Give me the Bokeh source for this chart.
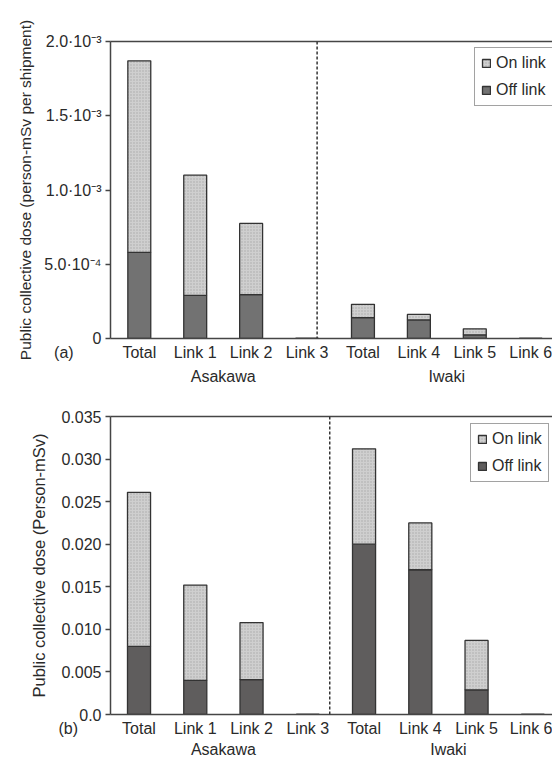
from bokeh.plotting import figure
from bokeh.models import (FixedTicker, LinearAxis, Range1d, Span, Legend,
                          LegendItem, ColumnDataSource, AllLabels)
from bokeh.layouts import column
from bokeh.embed import file_html
from bokeh.resources import INLINE

# ---------------- data ----------------
x_labels = ["Total", "Link 1", "Link 2", "Link 3", "Total", "Link 4", "Link 5", "Link 6"]
x_pos = [1, 2, 3, 4, 5, 6, 7, 8]
group_names = ["Asakawa", "Iwaki"]
group_pos = [2.5, 6.5]
series_names = ["On link", "Off link"]
panel_tags = ["(a)", "(b)"]

# (a) person-mSv per shipment
a_off = [5.8e-4, 2.9e-4, 2.95e-4, 0.0, 1.4e-4, 1.25e-4, 2.5e-5, 0.0]
a_on = [1.29e-3, 8.1e-4, 4.8e-4, 0.0, 9.0e-5, 3.7e-5, 4.0e-5, 0.0]
a_yticks = [0.0, 5.0e-4, 1.0e-3, 1.5e-3, 2.0e-3]
a_ytick_labels = ["0", "5.0·10⁻⁴", "1.0·10⁻³", "1.5·10⁻³", "2.0·10⁻³"]
a_ylabel = "Public collective dose (person-mSv per shipment)"

# (b) person-mSv
b_off = [0.0080, 0.0040, 0.0041, 0.0, 0.0200, 0.0170, 0.0029, 0.0]
b_on = [0.0181, 0.0112, 0.0067, 0.0, 0.0112, 0.0055, 0.0058, 0.0]
b_yticks = [0.0, 0.005, 0.010, 0.015, 0.020, 0.025, 0.030, 0.035]
b_ytick_labels = ["0.0", "0.005", "0.010", "0.015", "0.020", "0.025", "0.030", "0.035"]
b_ylabel = "Public collective dose (Person-mSv)"

FONT = "Liberation Sans"
TXT = "#2a2a2a"
AX = "#454545"
DARK_A = "#727272"
DARK_B = "#5f5d5d"
LIGHT = "#cfcfcf"
NBSP = "\u00a0"


def make_panel(off, on, ymax, yticks, ytick_labels, ylabel, ylabel_size, xstart, xend,
               divider, tag, tag_pad, dark, height, b_top, b_bottom, b_left,
               ylab_standoff, grp_standoff, legend_loc):
    src = ColumnDataSource(dict(x=x_pos, off=off, on=on))
    p = figure(width=552, height=height,
               x_range=Range1d(xstart, xend), y_range=Range1d(0, ymax),
               output_backend="svg", toolbar_location=None,
               min_border_left=b_left, min_border_right=0,
               min_border_top=b_top, min_border_bottom=b_bottom,
               outline_line_color=None, x_axis_location=None, y_axis_location=None)
    p.xgrid.visible = False
    p.ygrid.visible = False

    rs = p.vbar_stack(["off", "on"], x="x", width=0.41, source=src,
                      fill_color=[dark, LIGHT], line_color="#333333", line_width=1.3,
                      hatch_pattern=[" ", "dot"], hatch_color="#a9a9a9",
                      hatch_scale=3, hatch_weight=1)

    # x axis with category labels (+ panel tag at the left end)
    tag_x = xstart + 0.0001
    overrides = {float(k): v for k, v in zip(x_pos, x_labels)}
    overrides[tag_x] = tag + NBSP * tag_pad
    xa = LinearAxis(ticker=FixedTicker(ticks=[tag_x] + x_pos),
                    major_label_overrides=overrides,
                    major_label_policy=AllLabels(),
                    major_tick_line_color=None, minor_tick_line_color=None,
                    major_tick_out=0, major_tick_in=0,
                    axis_line_color=AX, axis_line_width=1.5,
                    major_label_standoff=5,
                    major_label_text_font=FONT, major_label_text_font_size="16px",
                    major_label_text_color=TXT)
    p.add_layout(xa, "below")
    # group axis
    ga = LinearAxis(ticker=FixedTicker(ticks=group_pos),
                    major_label_overrides={k: v for k, v in zip(group_pos, group_names)},
                    major_label_policy=AllLabels(),
                    major_tick_line_color=None, minor_tick_line_color=None,
                    major_tick_out=0, major_tick_in=0,
                    axis_line_color=None, major_label_standoff=grp_standoff,
                    major_label_text_font=FONT, major_label_text_font_size="16px",
                    major_label_text_color=TXT)
    p.add_layout(ga, "below")
    # top frame line
    ta = LinearAxis(ticker=FixedTicker(ticks=[]),
                    major_tick_line_color=None, minor_tick_line_color=None,
                    major_tick_out=0, major_tick_in=0,
                    axis_line_color=AX, axis_line_width=1.5,
                    major_label_text_font_size="0px", major_label_standoff=0)
    p.add_layout(ta, "above")
    # y axis
    ya = LinearAxis(ticker=FixedTicker(ticks=yticks),
                    major_label_overrides={float(k): v for k, v in zip(yticks, ytick_labels)},
                    major_tick_out=5, major_tick_in=0,
                    major_tick_line_color=AX, major_tick_line_width=1.5,
                    minor_tick_line_color=None,
                    axis_line_color=AX, axis_line_width=1.5,
                    major_label_standoff=4,
                    major_label_text_font=FONT, major_label_text_font_size="16px",
                    major_label_text_color=TXT,
                    axis_label=ylabel, axis_label_text_font=FONT,
                    axis_label_text_font_size=ylabel_size, axis_label_text_font_style="normal",
                    axis_label_text_color=TXT, axis_label_standoff=ylab_standoff)
    p.add_layout(ya, "left")

    p.add_layout(Span(location=divider, dimension="height", line_dash="3 2",
                      line_color="#333333", line_width=1.5))

    leg = Legend(items=[LegendItem(label=series_names[0], renderers=[rs[1]]),
                        LegendItem(label=series_names[1], renderers=[rs[0]])],
                 location=legend_loc, margin=0, padding=6, spacing=9,
                 glyph_width=10, glyph_height=10, label_standoff=5,
                 label_text_font=FONT, label_text_font_size="16px",
                 label_text_color=TXT, label_height=18,
                 border_line_color=AX, border_line_width=1.5,
                 background_fill_alpha=1.0)
    p.add_layout(leg)
    return p


p1 = make_panel(a_off, a_on, 2.0e-3, a_yticks, a_ytick_labels, a_ylabel, "15.5px",
                0.485, 8.39, 4.18, panel_tags[0], 21, DARK_A,
                387, 41, 49, 107, 7, 4, (364, 232))
p2 = make_panel(b_off, b_on, 0.035, b_yticks, b_ytick_labels, b_ylabel, "16.5px",
                0.493, 8.35, 4.39, panel_tags[1], 19, DARK_B,
                373, 29, 46, 110, 10, 1, (360, 232))

layout = column(p1, p2, spacing=0)
open("out.html", "w").write(file_html(layout, INLINE))
